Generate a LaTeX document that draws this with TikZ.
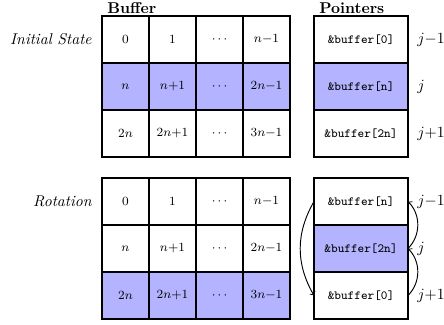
\documentclass[tikz,border=0pt]{standalone}
\usetikzlibrary{calc}
\definecolor{hilite}{RGB}{179,179,255}
\begin{document}
\begin{tikzpicture}[x=0.64pt,y=-0.64pt,
  cellbox/.style={draw,line width=0.8pt,minimum width=30.08pt,minimum height=30.08pt,
    inner sep=0pt,outer sep=0pt,font=\footnotesize},
  ptrbox/.style={cellbox,minimum width=60.16pt,font=\footnotesize\ttfamily},
  shaded/.style={fill=hilite},
  plain/.style={},
  title/.style={anchor=base west,inner sep=0pt,font=\bfseries},
  rowtag/.style={anchor=east,inner sep=0pt,font=\itshape},
  idx/.style={anchor=west,inner sep=0pt},
  rot/.style={->,semithick}]
\useasboundingbox (0,0) rectangle (444,324);

% buffer grids, one per state
\foreach \g/\y/\hl in {1/39.5/2,2/201.5/3}{
  \foreach \r/\a/\b/\c/\d in {1/0/1/\cdots/n{-}1,2/n/n{+}1/\cdots/2n{-}1,3/2n/2n{+}1/\cdots/3n{-}1}{
    \ifnum\r=\hl\relax
      \def\st{shaded}
    \else
      \def\st{plain}
    \fi
    \node[cellbox,\st] (b\g-\r-1) at (125.5,\y+47*\r-47) {$\a$};
    \node[cellbox,\st] (b\g-\r-2) at (172.5,\y+47*\r-47) {$\b$};
    \node[cellbox,\st] (b\g-\r-3) at (219.5,\y+47*\r-47) {$\c$};
    \node[cellbox,\st] (b\g-\r-4) at (266.5,\y+47*\r-47) {$\d$};
  }
}

% pointer tables
\node[ptrbox] (p1-1) at (361,39.5) {\&buffer[0]};
\node[ptrbox,shaded] (p1-2) at (361,86.5) {\&buffer[n]};
\node[ptrbox] (p1-3) at (361,133.5) {\&buffer[2n]};
\node[ptrbox] (p2-1) at (361,201.5) {\&buffer[n]};
\node[ptrbox,shaded] (p2-2) at (361,248.5) {\&buffer[2n]};
\node[ptrbox] (p2-3) at (361,295.5) {\&buffer[0]};

% headings
\node[title] (hbuf) at ($(b1-1-1.north west)+(5,-3)$) {Buffer};
\node[title] (hptr) at ($(p1-1.north west)+(5,-3)$) {Pointers};
\node[rowtag] (tinit) at ($(b1-1-1.west)+(-10,0)$) {Initial State};
\node[rowtag] (trot) at ($(b2-1-1.west)+(-10,0)$) {Rotation};

% indices of the pointers
\foreach \g in {1,2}{
  \node[idx] (j\g-1) at ($(p\g-1.east)+(9,0)$) {$j{-}1$};
  \node[idx] (j\g-2) at ($(p\g-2.east)+(9,0)$) {$j$};
  \node[idx] (j\g-3) at ($(p\g-3.east)+(9,0)$) {$j{+}1$};
}

% rotation of the pointers
\draw[rot] (p2-1.west) to[bend right=30] (p2-3.west);
\draw[rot] (p2-3.east) to[bend right=45] (p2-2.east);
\draw[rot] (p2-2.east) to[bend right=45] (p2-1.east);
\end{tikzpicture}
\end{document}
